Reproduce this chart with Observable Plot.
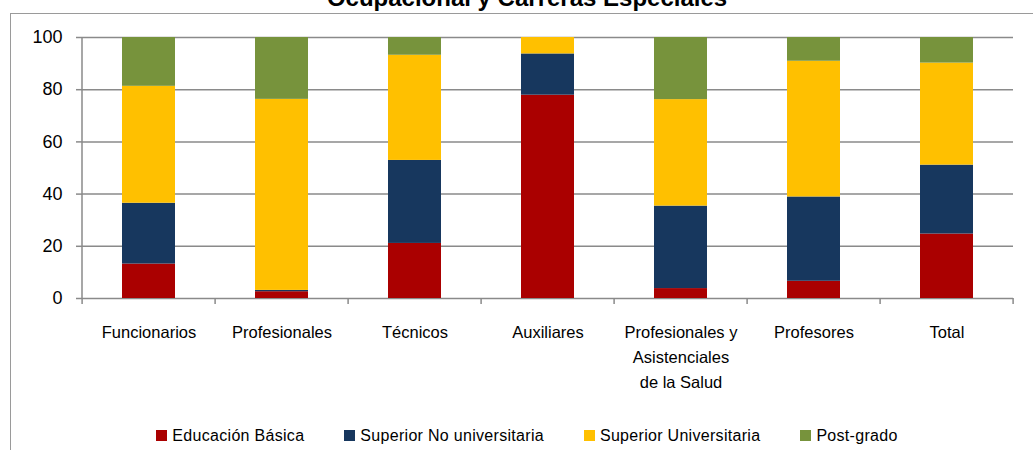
<!DOCTYPE html>
<html>
<head>
<meta charset="utf-8">
<script src="https://cdn.jsdelivr.net/npm/d3@7"></script>
<script src="https://cdn.jsdelivr.net/npm/@observablehq/plot@0.6"></script>
<style>
  body { margin: 0; background: #fff; }
  #wrap { position: relative; width: 1033px; height: 450px; overflow: hidden; font-family: "Liberation Sans", Arial, sans-serif; color: #000; }
  #frame { position: absolute; left: 10px; top: 13px; width: 1100px; height: 500px; border-left: 1.5px solid #9a9a9a; border-top: 1.5px solid #9a9a9a; box-sizing: border-box; }
  #title { position: absolute; left: 0; width: 1054px; top: -16px; text-align: center; font-weight: bold; font-size: 24px; line-height: 28px; white-space: nowrap; }
  #chart { position: absolute; left: 0; top: 0; }
  #legend { position: absolute; left: 0; width: 1054px; top: 427px; display: flex; justify-content: center; gap: 40px; font-size: 16px; letter-spacing: 0.3px; line-height: 17px; }
  .item { display: flex; align-items: center; gap: 5px; }
  .sw { width: 11px; height: 11px; display: inline-block; }
</style>
</head>
<body>
<div id="wrap">
  <div id="frame"></div>
  <div id="title">Ocupacional y Carreras Especiales</div>
  <div id="chart"></div>
  <div id="legend"></div>
</div>
<script>
const categories = ["Funcionarios", "Profesionales", "Técnicos", "Auxiliares", "Profesionales y\nAsistenciales\nde la Salud", "Profesores", "Total"];
const seriesNames = ["Educación Básica", "Superior No universitaria", "Superior Universitaria", "Post-grado"];
const educacionBasica = [13.2, 2.6, 21.1, 77.9, 3.8, 6.6, 24.7];
const superiorNoUniversitaria = [23.3, 0.5, 31.8, 15.8, 31.6, 32.3, 26.4];
const superiorUniversitaria = [44.8, 73.2, 40.3, 6.3, 40.8, 52.0, 39.1];
const postGrado = [18.7, 23.7, 6.8, 0.0, 23.8, 9.1, 9.8];
const seriesColors = ["#AA0000", "#17375E", "#FFC000", "#77933C"];
const yTicks = [0, 20, 40, 60, 80, 100];

const seriesValues = [educacionBasica, superiorNoUniversitaria, superiorUniversitaria, postGrado];
const rows = [];
seriesNames.forEach((s, si) => {
  categories.forEach((c, ci) => rows.push({category: c, series: s, value: seriesValues[si][ci]}));
});

const paddingInner = 0.6;
const gray = "#8a8a8a";

// boundary ticks under the category axis + left axis line, derived from the scales
const axisDecor = (index, scales, values, dims) => {
  const x = scales.x, y = scales.y;
  const step = x(categories[1]) - x(categories[0]);
  const half = step * paddingInner / 2;
  const bounds = categories.map(c => x(c) - half);
  bounds.push(x(categories[categories.length - 1]) + step - half);
  const g = d3.create("svg:g").attr("stroke", gray).attr("stroke-width", 1.5);
  const y0 = y(0);
  g.selectAll("line.b").data(bounds).join("line")
    .attr("x1", d => d).attr("x2", d => d).attr("y1", y0).attr("y2", y0 + 6);
  g.append("line").attr("x1", dims.marginLeft).attr("x2", dims.marginLeft)
    .attr("y1", y(yTicks[yTicks.length - 1])).attr("y2", y0);
  return g.node();
};

const chart = Plot.plot({
  width: 1033,
  height: 410,
  marginLeft: 82,
  marginRight: 20,
  marginTop: 37,
  marginBottom: 112,
  style: {fontFamily: "'Liberation Sans', Arial, sans-serif", color: "#000", background: "transparent", overflow: "visible"},
  x: {domain: categories, paddingInner: paddingInner, paddingOuter: paddingInner / 2, label: null},
  y: {domain: [0, 100], label: null},
  color: {domain: seriesNames, range: seriesColors},
  marks: [
    Plot.gridY(yTicks, {stroke: gray, strokeOpacity: 1, strokeWidth: 1.5}),
    Plot.barY(rows, {x: "category", y: "value", fill: "series"}),
    Plot.axisY(yTicks, {tickSize: 6, tickPadding: 14, fontSize: 18, stroke: gray, strokeWidth: 1.5, label: null}),
    Plot.axisX({tickSize: 0, tickPadding: 22, fontSize: 16.5, lineHeight: 1.52, label: null, style: "letter-spacing:0.5px"}),
    axisDecor
  ]
});
document.getElementById("chart").appendChild(chart);

const legend = d3.select("#legend");
seriesNames.forEach((s, i) => {
  const it = legend.append("div").attr("class", "item");
  it.append("span").attr("class", "sw").style("background", seriesColors[i]);
  it.append("span").text(s);
});
</script>
</body>
</html>
